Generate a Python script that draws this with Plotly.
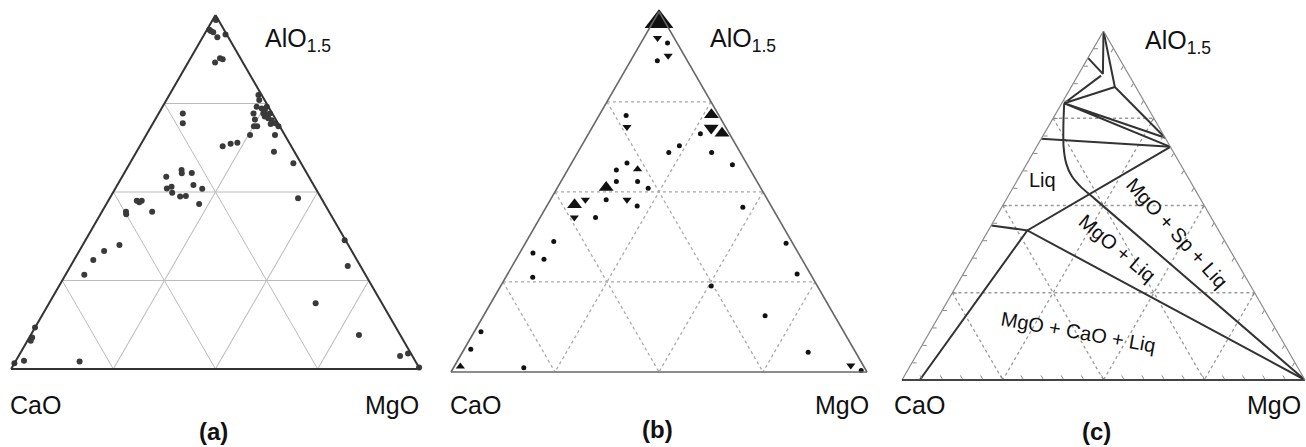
import plotly.graph_objects as go

# ---------------- Panel (a): measured compositions (fractions) ----------------
a_al = [0.955, 0.951, 0.937, 0.945, 0.986, 0.958, 0.866, 0.878, 0.875,
        0.774, 0.760, 0.741, 0.736, 0.732, 0.741, 0.722, 0.718, 0.722, 0.708,
        0.703, 0.694, 0.686, 0.722, 0.705, 0.686, 0.686, 0.661, 0.661, 0.614,
        0.581, 0.713, 0.692, 0.722, 0.694, 0.629, 0.636, 0.639, 0.562, 0.553,
        0.554, 0.543, 0.520, 0.510, 0.515, 0.498, 0.487, 0.489, 0.509, 0.466,
        0.475, 0.471, 0.475, 0.444, 0.437, 0.444, 0.350, 0.333, 0.308, 0.266,
        0.482, 0.364, 0.291, 0.186, 0.096, 0.037, 0.044, 0.004, 0.117, 0.089,
        0.080, 0.016, 0.023, 0.021]
a_ca = [0.034, 0.030, 0.027, 0.003, 0.006, 0.036, 0.068, 0.050, 0.045,
        0.008, 0.013, 0.029, 0.019, 0.013, 0.004, 0.022, 0.016, 0.006, 0.017,
        0.011, 0.007, 0.003, 0.046, 0.051, 0.063, 0.055, 0.085, 0.024, 0.050,
        0.019, 0.023, 0.019, 0.219, 0.233, 0.168, 0.145, 0.127, 0.302, 0.306,
        0.281, 0.349, 0.294, 0.364, 0.350, 0.357, 0.343, 0.328, 0.278, 0.307,
        0.455, 0.451, 0.443, 0.497, 0.500, 0.433, 0.560, 0.606, 0.645, 0.688,
        0.057, 0.002, 0.031, 0.162, 0.101, 0.030, 0.007, 0.000, 0.883, 0.904,
        0.912, 0.984, 0.957, 0.822]
a_mg = [0.011, 0.019, 0.036, 0.052, 0.008, 0.006, 0.066, 0.072, 0.080,
        0.218, 0.227, 0.230, 0.245, 0.255, 0.255, 0.256, 0.266, 0.272, 0.275,
        0.286, 0.299, 0.311, 0.232, 0.244, 0.251, 0.259, 0.254, 0.315, 0.336,
        0.400, 0.264, 0.289, 0.059, 0.073, 0.203, 0.219, 0.234, 0.136, 0.141,
        0.165, 0.108, 0.186, 0.126, 0.135, 0.145, 0.170, 0.183, 0.213, 0.227,
        0.070, 0.078, 0.082, 0.059, 0.063, 0.123, 0.090, 0.061, 0.047, 0.046,
        0.461, 0.634, 0.678, 0.652, 0.803, 0.933, 0.949, 0.996, 0.000, 0.007,
        0.008, 0.000, 0.020, 0.157]

# ---------------- Panel (b): dots, up-triangles, down-triangles ----------------
b_dot_al = [0.913, 0.864, 0.661, 0.609, 0.575, 0.628, 0.609, 0.712, 0.580, 0.561,
            0.529, 0.529, 0.510, 0.478, 0.461, 0.429, 0.457, 0.362, 0.330, 0.313,
            0.263, 0.357, 0.272, 0.239, 0.156, 0.055, 0.004, 0.112, 0.063, 0.012]
b_dot_ca = [0.023, 0.072, 0.070, 0.069, 0.036, 0.137, 0.172, 0.223, 0.287, 0.322,
            0.338, 0.287, 0.271, 0.388, 0.322, 0.438, 0.070, 0.572, 0.638, 0.620,
            0.672, 0.016, 0.032, 0.255, 0.167, 0.114, 0.012, 0.872, 0.921, 0.819]
b_dot_mg = [0.064, 0.064, 0.269, 0.322, 0.389, 0.235, 0.219, 0.065, 0.133, 0.117,
            0.133, 0.184, 0.219, 0.134, 0.217, 0.133, 0.473, 0.066, 0.032, 0.067,
            0.065, 0.627, 0.696, 0.506, 0.677, 0.831, 0.984, 0.016, 0.016, 0.169]

b_upL_al = [0.714, 0.663, 0.512, 0.464]
b_upL_ca = [0.017, 0.017, 0.371, 0.471]
b_upL_mg = [0.269, 0.320, 0.117, 0.065]

b_upS_al = [0.563, 0.015]
b_upS_ca = [0.270, 0.970]
b_upS_mg = [0.167, 0.015]

b_apex_al = [0.972]
b_apex_ca = [0.014]
b_apex_mg = [0.014]

b_dnL_al = [0.677]
b_dnL_ca = [0.036]
b_dnL_mg = [0.287]

b_dnS_al = [0.927, 0.878, 0.680, 0.478, 0.478, 0.429, 0.018]
b_dnS_ca = [0.040, 0.039, 0.237, 0.338, 0.438, 0.489, 0.030]
b_dnS_mg = [0.033, 0.083, 0.083, 0.184, 0.084, 0.082, 0.952]

# ---------------- Panel (c): phase boundaries ----------------
c_L1_al = [0.668, 0.4286, 0.0]
c_L1_ca = [0.0, 0.4747, 0.956]
c_L1_mg = [0.332, 0.0967, 0.044]

c_L2_al = [0.443, 0.4286, 0.0]
c_L2_ca = [0.557, 0.4747, 0.0]
c_L2_mg = [0.0, 0.0967, 1.0]

c_liq_al = [0.793, 0.733, 0.668, 0.6215, 0.5844, 0.552, 0.519, 0.0]
c_liq_ca = [0.201, 0.233, 0.265, 0.282, 0.2866, 0.279, 0.262, 0.0]
c_liq_mg = [0.006, 0.034, 0.067, 0.0965, 0.129, 0.169, 0.219, 1.0]

c_L4_al = [0.691, 0.668]
c_L4_ca = [0.309, 0.0]
c_L4_mg = [0.0, 0.332]

c_L5_al = [0.694, 0.793, 0.668]
c_L5_ca = [0.0, 0.201, 0.0]
c_L5_mg = [0.306, 0.006, 0.332]

c_L7_al = [0.872, 0.793, 0.8395]
c_L7_ca = [0.070, 0.201, 0.052]
c_L7_mg = [0.058, 0.006, 0.1083]

c_L9_al = [0.923, 0.877, 1.0]
c_L9_ca = [0.077, 0.063, 0.0]
c_L9_mg = [0.0, 0.060, 0.0]

c_L11_al = [1.0, 0.8395, 0.694]
c_L11_ca = [0.0, 0.052, 0.0]
c_L11_mg = [0.0, 0.1083, 0.306]

grid_levels = [0.25, 0.5, 0.75]

FONT = "Liberation Sans, Arial, sans-serif"

fig = go.Figure()

# ---- panel (a)
fig.add_trace(go.Scatterternary(a=a_al, b=a_ca, c=a_mg, mode="markers", subplot="ternary",
                                marker=dict(size=6, color="#3a3a3a"), cliponaxis=False,
                                showlegend=False))


def add_grid(sub, dash, color):
    for v in grid_levels:
        for aa, bb, cc in [([v, v], [1 - v, 0], [0, 1 - v]),
                           ([1 - v, 0], [v, v], [0, 1 - v]),
                           ([1 - v, 0], [0, 1 - v], [v, v])]:
            fig.add_trace(go.Scatterternary(a=aa, b=bb, c=cc, mode="lines", subplot=sub,
                                            line=dict(color=color, width=1.3, dash=dash),
                                            showlegend=False, hoverinfo="skip"))


# ---- panel (b)
add_grid("ternary2", "dot", "#aaaaaa")
for al, ca, mg, sym, sz in [(b_dot_al, b_dot_ca, b_dot_mg, "circle", 5),
                            (b_upL_al, b_upL_ca, b_upL_mg, "triangle-up", 13),
                            (b_upS_al, b_upS_ca, b_upS_mg, "triangle-up", 8),
                            (b_apex_al, b_apex_ca, b_apex_mg, "triangle-up", 25),
                            (b_dnL_al, b_dnL_ca, b_dnL_mg, "triangle-down", 13),
                            (b_dnS_al, b_dnS_ca, b_dnS_mg, "triangle-down", 8)]:
    fig.add_trace(go.Scatterternary(a=al, b=ca, c=mg, mode="markers", subplot="ternary2",
                                    marker=dict(size=sz, color="#111111", symbol=sym),
                                    cliponaxis=False, showlegend=False))

# ---- panel (c)
add_grid("ternary3", "dot", "#999999")
for al, ca, mg in [(c_L1_al, c_L1_ca, c_L1_mg), (c_L2_al, c_L2_ca, c_L2_mg),
                   (c_liq_al, c_liq_ca, c_liq_mg), (c_L4_al, c_L4_ca, c_L4_mg),
                   (c_L5_al, c_L5_ca, c_L5_mg), (c_L7_al, c_L7_ca, c_L7_mg),
                   (c_L9_al, c_L9_ca, c_L9_mg), (c_L11_al, c_L11_ca, c_L11_mg)]:
    fig.add_trace(go.Scatterternary(a=al, b=ca, c=mg, mode="lines", subplot="ternary3",
                                    line=dict(color="#333333", width=2, shape="spline", smoothing=0.6)
                                    if al is c_liq_al else dict(color="#333333", width=2),
                                    cliponaxis=False, showlegend=False))


def ax(linecolor, linewidth, grid, gridcolor="#bbbbbb", ticks="", dtick=0.25, ticklen=0):
    return dict(title=dict(text=""), showticklabels=False, linecolor=linecolor,
                linewidth=linewidth, showline=True, showgrid=grid, gridcolor=gridcolor,
                gridwidth=1, dtick=dtick, ticks=ticks, ticklen=ticklen, tickcolor="#888888",
                min=0)


W, H = 1306, 447


def dom(x0, x1, ybase, ytop):
    return dict(x=[x0 / W, x1 / W], y=[1 - ybase / H, 1 - ytop / H])


fig.update_layout(
    width=W, height=H, margin=dict(l=0, r=0, t=0, b=0),
    paper_bgcolor="white", plot_bgcolor="white", showlegend=False,
    ternary=dict(domain=dom(11, 420, 369, 15), sum=1, bgcolor="white",
                 aaxis=ax("#333333", 2, True), baxis=ax("#333333", 2, True),
                 caxis=ax("#333333", 2, True)),
    ternary2=dict(domain=dom(451, 867, 372, 11.7), sum=1, bgcolor="white",
                  aaxis=ax("#666666", 1.6, False), baxis=ax("#666666", 1.6, False),
                  caxis=ax("#666666", 1.6, False)),
    ternary3=dict(domain=dom(902, 1305, 380, 31), sum=1, bgcolor="white",
                  aaxis=ax("#888888", 1.2, False, ticks="inside", dtick=0.05, ticklen=4),
                  baxis=ax("#444444", 2.2, False, ticks="inside", dtick=0.05, ticklen=4),
                  caxis=ax("#888888", 1.2, False, ticks="inside", dtick=0.05, ticklen=4)),
)

labels = [
    ("CaO", 35, 405, "center", 25), ("MgO", 392, 405, "center", 25),
    ("AlO<sub>1.5</sub>", 263, 40, "left", 25), ("<b>(a)</b>", 213, 431, "center", 24),
    ("CaO", 475, 405, "center", 25), ("MgO", 842, 405, "center", 25),
    ("AlO<sub>1.5</sub>", 708, 40, "left", 25), ("<b>(b)</b>", 657, 429, "center", 24),
    ("CaO", 919, 405, "center", 25), ("MgO", 1274, 405, "center", 25),
    ("AlO<sub>1.5</sub>", 1143, 42, "left", 25), ("<b>(c)</b>", 1096, 431, "center", 24),
]
for txt, px, py, xa, fs in labels:
    fig.add_annotation(text=txt, x=px / W, y=1 - py / H, xref="paper", yref="paper",
                       xanchor=xa, yanchor="middle", showarrow=False,
                       font=dict(family=FONT, size=fs, color="#111111"))

region_labels = [("Liq", 1042, 180, 0), ("MgO + Sp + Liq", 1177, 233, 48),
                 ("MgO + Liq", 1117, 248, 40), ("MgO + CaO + Liq", 1078, 332, 10)]
for txt, px, py, ang in region_labels:
    fig.add_annotation(text=txt, x=px / W, y=1 - py / H, xref="paper", yref="paper",
                       xanchor="center", yanchor="middle", showarrow=False, textangle=ang,
                       font=dict(family=FONT, size=20, color="#111111"))

fig.write_html("out.html", config={"displayModeBar": False},
               post_script="document.body.style.margin='0px';")
